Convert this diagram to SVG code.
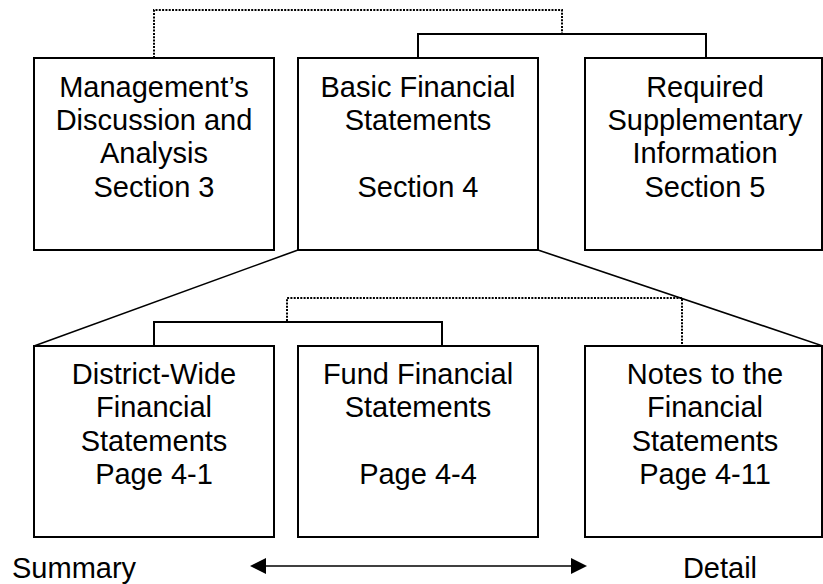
<svg xmlns="http://www.w3.org/2000/svg" width="823" height="584" viewBox="0 0 823 584">
<style>
.box{fill:#fff;stroke:#000;stroke-width:2}
.t{font-family:"Liberation Sans",Arial,sans-serif;font-size:29px;fill:#000;text-anchor:middle}
.s{fill:none;stroke:#000;stroke-width:2}
.d{fill:none;stroke:#000;stroke-width:2;stroke-dasharray:2 1.3}
.l{fill:none;stroke:#000;stroke-width:1.6}
.ah{fill:#000;stroke:none}
</style>
<g id="connectors">
<path class="d" d="M154,58 V10 H562 V33"/>
<path class="s" d="M418,58 V34 H706 V58"/>
<path class="l" d="M298,250 L34,346"/>
<path class="l" d="M538,250 L823,346"/>
<path class="d" d="M287,321 V298 H682 V346"/>
<path class="s" d="M154,346 V322 H442 V346"/>
<path class="l" d="M262,566 H576"/>
<polygon class="ah" points="250,566 266,558 266,574"/>
<polygon class="ah" points="587,566 571,558 571,574"/>
</g>
<g id="mda">
<rect class="box" x="34" y="58" width="240" height="192"/>
<text class="t" x="154" y="97">Management’s</text>
<text class="t" x="154" y="130">Discussion and</text>
<text class="t" x="154" y="163">Analysis</text>
<text class="t" x="154" y="197">Section 3</text>
</g>
<g id="bfs">
<rect class="box" x="298" y="58" width="240" height="192"/>
<text class="t" x="418" y="97">Basic Financial</text>
<text class="t" x="418" y="130">Statements</text>
<text class="t" x="418" y="197">Section 4</text>
</g>
<g id="rsi">
<rect class="box" x="585" y="58" width="237" height="192"/>
<text class="t" x="705" y="97">Required</text>
<text class="t" x="705" y="130">Supplementary</text>
<text class="t" x="705" y="163">Information</text>
<text class="t" x="705" y="197">Section 5</text>
</g>
<g id="dwfs">
<rect class="box" x="34" y="346" width="240" height="191"/>
<text class="t" x="154" y="384">District-Wide</text>
<text class="t" x="154" y="417">Financial</text>
<text class="t" x="154" y="451">Statements</text>
<text class="t" x="154" y="484">Page 4-1</text>
</g>
<g id="ffs">
<rect class="box" x="298" y="346" width="240" height="191"/>
<text class="t" x="418" y="384">Fund Financial</text>
<text class="t" x="418" y="417">Statements</text>
<text class="t" x="418" y="484">Page 4-4</text>
</g>
<g id="notes">
<rect class="box" x="585" y="346" width="237" height="191"/>
<text class="t" x="705" y="384">Notes to the</text>
<text class="t" x="705" y="417">Financial</text>
<text class="t" x="705" y="451">Statements</text>
<text class="t" x="705" y="484">Page 4-11</text>
</g>
<g id="summary"><text class="t" x="12" y="578" style="text-anchor:start">Summary</text></g>
<g id="detail"><text class="t" x="720" y="578">Detail</text></g>
</svg>
